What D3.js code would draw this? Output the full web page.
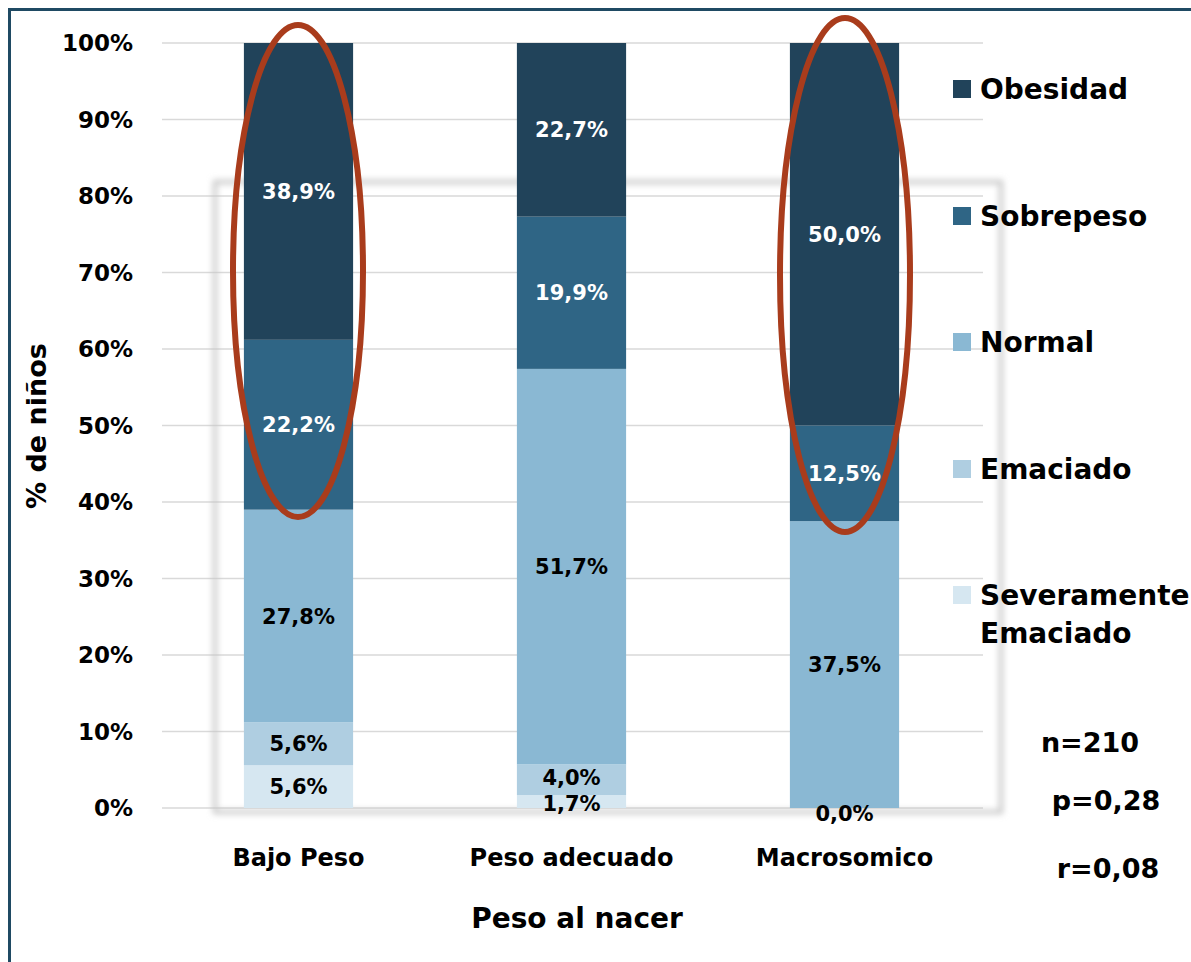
<!DOCTYPE html>
<html><head><meta charset="utf-8">
<script src="https://cdn.jsdelivr.net/npm/d3@7/dist/d3.min.js"></script>
<style>body{margin:0;background:#fff}svg text{font-family:"DejaVu Sans",sans-serif;font-weight:bold}</style>
</head><body>
<script>
const categories = ["Bajo Peso", "Peso adecuado", "Macrosomico"];
const seriesNames = ["Severamente Emaciado", "Emaciado", "Normal", "Sobrepeso", "Obesidad"];
const sevEmaciado = [5.6, 1.7, 0.0];
const emaciado    = [5.6, 4.0, 0.0];
const normal      = [27.8, 51.7, 37.5];
const sobrepeso   = [22.2, 19.9, 12.5];
const obesidad    = [38.9, 22.7, 50.0];
const colors = ["#d6e7f1", "#afcee1", "#8ab8d3", "#2f6585", "#21435a"];
const labelColors = ["#000", "#000", "#000", "#fff", "#fff"];
const yTicks = [0,10,20,30,40,50,60,70,80,90,100];
const stats = ["n=210", "p=0,28", "r=0,08"];

const W = 1191, H = 962;
const svg = d3.select("body").append("svg").attr("width", W).attr("height", H);
const defs = svg.append("defs");
const f = defs.append("filter").attr("id","blur").attr("x","-5%").attr("y","-5%").attr("width","110%").attr("height","110%");
f.append("feGaussianBlur").attr("stdDeviation", 3);

// frame
svg.append("rect").attr("x", 9.5).attr("y", 9.5).attr("width", W).attr("height", H)
  .attr("fill", "none").attr("stroke", "#1f4a63").attr("stroke-width", 3);

const x = d3.scaleBand().domain(categories).range([162, 981]).paddingInner(0.6).paddingOuter(0.3);
const y = d3.scaleLinear().domain([0, 100]).range([808, 43]);

// gridlines
svg.append("g").selectAll("line").data(yTicks).join("line")
  .attr("x1", 162).attr("x2", 983).attr("y1", d => y(d)).attr("y2", d => y(d))
  .attr("stroke", "#d9d9d9").attr("stroke-width", 1.5);

// y ticks
svg.append("g").selectAll("text").data(yTicks).join("text")
  .attr("x", 133).attr("y", d => y(d)).attr("dy", "0.36em").attr("text-anchor", "end")
  .attr("font-size", 23).attr("fill", "#000").text(d => d + "%");

// shadow box
svg.append("rect").attr("x", 215).attr("y", 182).attr("width", 786).attr("height", 630)
  .attr("fill", "none").attr("stroke", "#c4c4c4").attr("stroke-width", 4).attr("filter", "url(#blur)");

const seriesVals = [sevEmaciado, emaciado, normal, sobrepeso, obesidad];
const rows = categories.map((c, i) => {
  const o = {cat: c};
  seriesNames.forEach((s, k) => o[s] = seriesVals[k][i]);
  return o;
});
const stacked = d3.stack().keys(seriesNames)(rows);

const gBars = svg.append("g");
stacked.forEach((layer, k) => {
  gBars.append("g").attr("fill", colors[k]).selectAll("rect").data(layer).join("rect")
    .attr("x", d => x(d.data.cat)).attr("width", x.bandwidth())
    .attr("y", d => y(Math.min(d[1], 100))).attr("height", d => Math.max(0, y(d[0]) - y(Math.min(d[1], 100))));
});

// data labels
const fmt = v => v.toFixed(1).replace(".", ",") + "%";
stacked.forEach((layer, k) => {
  svg.append("g").selectAll("text").data(layer.filter((d, i) => !(k === 0 && seriesVals[1][i] === 0 && seriesVals[0][i] === 0))).join("text")
    .attr("x", d => x(d.data.cat) + x.bandwidth() / 2)
    .attr("y", d => {
      let cy = (y(d[0]) + y(Math.min(d[1], 100))) / 2;
      const v = d[1] - d[0];
      if (v === 0) cy = y(d[0]) + 5;
      else if (k === 0 && v < 3) cy = y(d[0]) - 5;
      else if (k === 1 && (d[1]-d[0]) < 5) cy = cy - 2;
      return cy;
    })
    .attr("dy", "0.36em").attr("text-anchor", "middle")
    .attr("font-size", 21).attr("fill", labelColors[k])
    .text(d => fmt(d[1] - d[0]));
});

// x category labels
svg.append("g").selectAll("text").data(categories).join("text")
  .attr("x", d => x(d) + x.bandwidth() / 2).attr("y", 857).attr("dy", "0.36em")
  .attr("text-anchor", "middle").attr("font-size", 24).attr("fill", "#000").text(d => d);

// axis titles
svg.append("text").attr("x", 577).attr("y", 918).attr("dy", "0.36em").attr("text-anchor", "middle")
  .attr("font-size", 28).attr("fill", "#000").text("Peso al nacer");
svg.append("text").attr("transform", "translate(36,426) rotate(-90)").attr("dy", "0.36em")
  .attr("text-anchor", "middle").attr("font-size", 27).attr("fill", "#000").text("% de niños");

// legend (top to bottom: Obesidad ... Severamente)
const legendY = [89, 216, 342, 469, 595];
const legOrder = [4, 3, 2, 1, 0];
legOrder.forEach((k, i) => {
  svg.append("rect").attr("x", 953).attr("y", legendY[i] - 9).attr("width", 18).attr("height", 18).attr("fill", colors[k]);
  const t = svg.append("text").attr("x", 980).attr("y", legendY[i]).attr("dy", "0.36em")
    .attr("font-size", 28).attr("fill", "#000");
  if (k === 0) {
    t.append("tspan").attr("x", 980).text("Severamente");
    t.append("tspan").attr("x", 980).attr("dy", 38).text("Emaciado");
  } else t.text(seriesNames[k]);
});

// stats
const statPos = [[1090, 742], [1106, 800], [1108, 868]];
stats.forEach((s, i) => {
  svg.append("text").attr("x", statPos[i][0]).attr("y", statPos[i][1]).attr("dy", "0.36em")
    .attr("text-anchor", "middle").attr("font-size", 27).attr("fill", "#000").text(s);
});

// red ellipses
const ell = [[298, 271, 65, 246], [845, 275, 65, 257]];
svg.append("g").selectAll("ellipse").data(ell).join("ellipse")
  .attr("cx", d => d[0]).attr("cy", d => d[1]).attr("rx", d => d[2]).attr("ry", d => d[3])
  .attr("fill", "none").attr("stroke", "#a93c1c").attr("stroke-width", 6);
</script>
</body></html>
